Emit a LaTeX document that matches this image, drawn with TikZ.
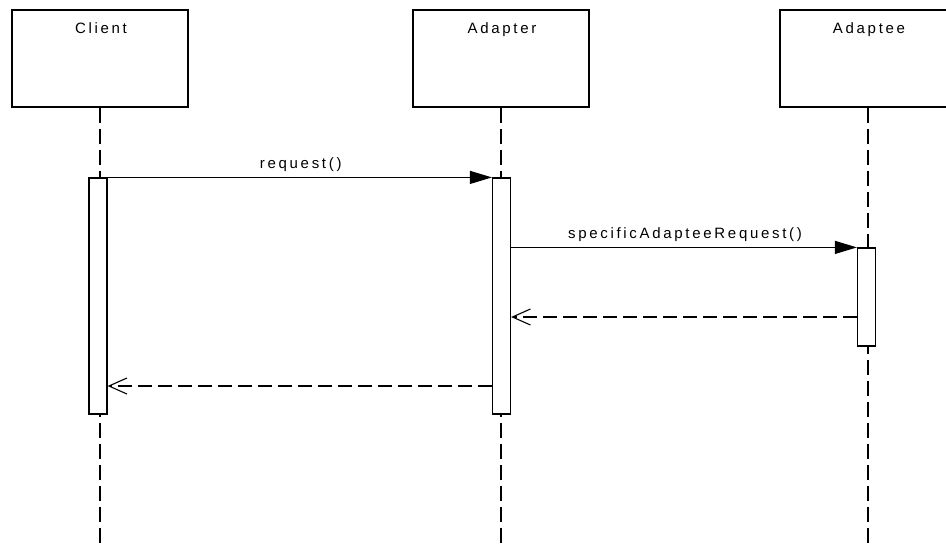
\documentclass[tikz,border=0pt]{standalone}
\usepackage{fontspec}
\setmainfont{Liberation Sans}[LetterSpace=18]
\usetikzlibrary{arrows.meta,calc}
\begin{document}
\begin{tikzpicture}[x=1pt,y=-1pt, line width=1.2pt,
  lifebox/.style={draw, rectangle, minimum width=176pt, minimum height=97pt, inner sep=0pt, fill=white},
  actbar/.style={draw, rectangle, fill=white, inner sep=0pt, minimum width=18pt},
  lifeline/.style={dash pattern=on 15pt off 6pt},
  callmsg/.style={-{Triangle[length=22pt,width=13pt]}},
  retmsg/.style={dash pattern=on 14pt off 6pt, -{Straight Barb[length=18pt,width=16pt,line width=1.1pt]}},
  lbl/.style={anchor=base, font=\fontsize{15}{17}\selectfont, inner sep=0pt}]
\clip (0,0) rectangle (946,547);
\fill[white] (0,0) rectangle (946,547);
% lifeline heads
\node[lifebox] (client) at (100,58.5) {};
\node[lifebox] (adapter) at (501,58.5) {};
\node[lifebox] (adaptee) at (868,58.5) {};
\node[lbl] (clientname) at ($(client.north)+(1,24)$) {Client};
\node[lbl] (adaptername) at ($(adapter.north)+(1,24)$) {Adapter};
\node[lbl] (adapteename) at ($(adaptee.north)+(1,24)$) {Adaptee};
% lifeline ends
\coordinate (bottom) at (0,550);
\draw[lifeline] (client.south) -- (client.south |- bottom);
\draw[lifeline] (adapter.south) -- (adapter.south |- bottom);
\draw[lifeline] (adaptee.south) -- (adaptee.south |- bottom);
% activation bars
\node[actbar, minimum height=236pt] (cbar) at (98,296) {};
\node[actbar, minimum height=236pt] (abar) at (501.5,296) {};
\node[actbar, minimum height=98pt] (ebar) at (866.5,297) {};
% messages
\coordinate (yret1) at (0,317);
\coordinate (yret2) at (0,386);
\draw[callmsg] (cbar.north east) -- node[lbl, midway, yshift=9pt, xshift=1pt] (reqlbl) {request()} (abar.north west);
\draw[callmsg] (abar.east |- ebar.north) -- node[lbl, midway, yshift=9pt, xshift=1pt] (speclbl) {specificAdapteeRequest()} (ebar.north west);
\draw[retmsg] (ebar.west |- yret1) -- (abar.east |- yret1);
\draw[retmsg] (abar.west |- yret2) -- (cbar.east |- yret2);
\end{tikzpicture}
\end{document}
